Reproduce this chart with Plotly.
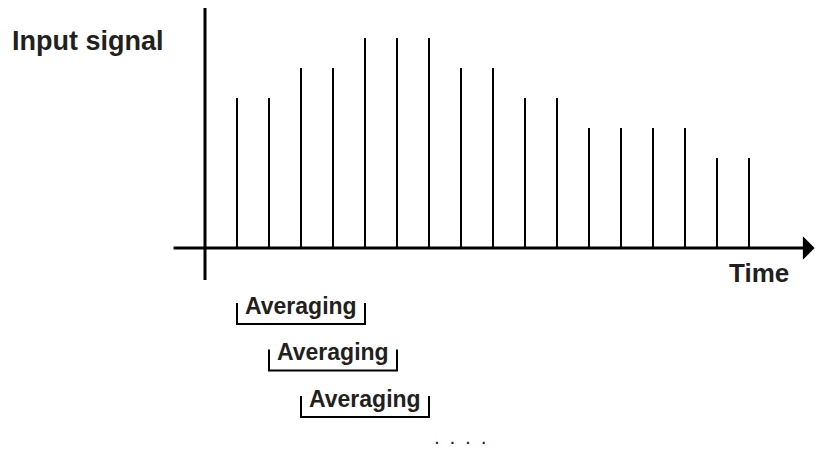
import plotly.graph_objects as go

# ── Data ────────────────────────────────────────────────
sample_idx = list(range(1, 18))
signal = [5, 5, 6, 6, 7, 7, 7, 6, 6, 5, 5, 4, 4, 4, 4, 3, 3]

# averaging windows: first sample of each window, window length (samples)
win_start = [1, 2, 3]
win_len = 4
win_label = "Averaging"

# ── Style ───────────────────────────────────────────────
INK = "#000000"
TXT = "#231f20"
FONT = "Liberation Sans, Arial, sans-serif"

fig = go.Figure()

# stems
stem_x, stem_y = [], []
for i, v in zip(sample_idx, signal):
    stem_x += [i, i, None]
    stem_y += [0, v, None]
fig.add_trace(go.Scatter(
    x=stem_x, y=stem_y, mode="lines",
    line=dict(color=INK, width=2), hoverinfo="skip",
))

# averaging brackets
row_gap = 1.55
annos = []
for r, s in enumerate(win_start):
    bot = -2.53 - row_gap * r
    top = bot + 0.7
    e = s + win_len
    fig.add_trace(go.Scatter(
        x=[s, s, e, e], y=[top, bot, bot, top], mode="lines",
        line=dict(color=INK, width=2), hoverinfo="skip",
    ))
    annos.append(dict(
        x=(s + e) / 2, y=bot, xref="x", yref="y",
        text="<b>" + win_label + "</b>", showarrow=False,
        yanchor="bottom", yshift=3,
        font=dict(family=FONT, size=23, color=TXT),
    ))

# time axis with arrow
annos.append(dict(
    x=19.05, y=0, ax=-1.03, ay=0, xref="x", yref="y", axref="x", ayref="y",
    text="", showarrow=True, arrowhead=1, arrowsize=1.3, arrowwidth=3,
    arrowcolor=INK, standoff=0,
))
# signal axis
fig.add_shape(type="line", x0=0, x1=0, y0=8.0, y1=-1.07,
              line=dict(color=INK, width=3))

gap = "\u00a0\u00a0\u00a0"
annos += [
    dict(x=10 / 815, y=1 - 41 / 450, xref="paper", yref="paper",
         text="<b>Input signal</b>", showarrow=False,
         xanchor="left", yanchor="middle",
         font=dict(family=FONT, size=27, color=TXT)),
    dict(x=791 / 815, y=1 - 273 / 450, xref="paper", yref="paper",
         text="<b>Time</b>", showarrow=False,
         xanchor="right", yanchor="middle",
         font=dict(family=FONT, size=26, color=TXT)),
    dict(x=461 / 815, y=1 - 449 / 450, xref="paper", yref="paper",
         text="<b>" + gap.join(["."] * 4) + "</b>", showarrow=False,
         xanchor="center", yanchor="bottom",
         font=dict(family=FONT, size=14, color=TXT)),
]

fig.update_layout(
    width=815, height=450,
    margin=dict(l=0, r=0, t=0, b=0),
    paper_bgcolor="white", plot_bgcolor="white",
    showlegend=False,
    xaxis=dict(range=[-205 / 32, 610 / 32], visible=False),
    yaxis=dict(range=[-202 / 30, 248 / 30], visible=False),
    annotations=annos,
)

fig.write_html("out.html", config={"displayModeBar": False},
               post_script="document.body.style.margin='0';")
